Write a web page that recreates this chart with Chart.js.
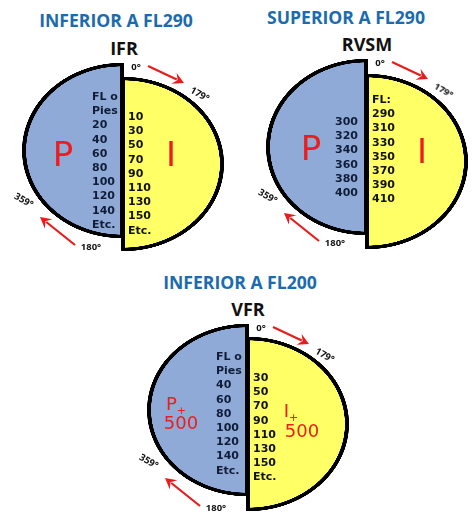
<!DOCTYPE html>
<html lang="es">
<head>
<meta charset="utf-8">
<title>Niveles de crucero</title>
<script src="https://cdn.jsdelivr.net/npm/chart.js@4/dist/chart.umd.min.js"></script>
<style>
  html, body { margin: 0; padding: 0; background: #fff; }
  #page { position: relative; width: 474px; height: 517px; overflow: hidden; }
  #page canvas { position: absolute; }
  #arrows { position: absolute; left: 0; top: 0; }
  .t { position: absolute; white-space: nowrap; transform: translate(-50%, -50%); }
  .title { font: bold 17.6px "Open Sans", sans-serif; color: #1b6cae; }
  .rule { font: bold 18px "Open Sans", sans-serif; color: #111; }
  .lvl { font: bold 11px "DejaVu Sans", sans-serif; transform: translateY(-50%); }
  .deg { font: bold 9.5px "Open Sans", sans-serif; color: #111; }
  .big { font: 34px "DejaVu Sans", sans-serif; color: #ee1c1c; }
  .mid { font: 18px "DejaVu Sans", sans-serif; color: #ee1c1c; }
  .mid sub { font-size: 11px; line-height: 0; }
</style>
</head>
<body>
<div id="page"></div>
<script>
// Rumbos de cada semicírculo (grados)
const oddHeadings = [180];   // 0° a 179°
const evenHeadings = [180];  // 180° a 359°

// Niveles por regla
const ifrEven = ['FL o', 'Pies', '20', '40', '60', '80', '100', '120', '140', 'Etc.'];
const ifrOdd = ['10', '30', '50', '70', '90', '110', '130', '150', 'Etc.'];
const rvsmEven = ['300', '320', '340', '360', '380', '400'];
const rvsmOdd = ['FL:', '290', '310', '330', '350', '370', '390', '410'];
const vfrEven = ['FL o', 'Pies', '40', '60', '80', '100', '120', '140', 'Etc.'];
const vfrOdd = ['30', '50', '70', '90', '110', '130', '150', 'Etc.'];

const BLUE = '#8faad6';
const YELLOW = '#ffff66';
const RED = '#e81c1c';
const LINE_STEP = 14.2;

const page = document.getElementById('page');

function addText(cls, html, x, y, rotate) {
    const el = document.createElement('div');
    el.className = 't ' + cls;
    el.innerHTML = html;
    el.style.left = x + 'px';
    el.style.top = y + 'px';
    if (rotate) el.style.transform = `translate(-50%, -50%) rotate(${rotate}deg)`;
    page.appendChild(el);
}

// Columna de niveles
function addLevels(levels, x, y, color) {
    levels.forEach((txt, i) => {
        const el = document.createElement('div');
        el.className = 't lvl';
        el.textContent = txt;
        el.style.left = x + 'px';
        el.style.top = (y + i * LINE_STEP) + 'px';
        el.style.color = color;
        page.appendChild(el);
    });
}

// Semicírculo: se dibuja a 2x y el CSS lo estira hasta la elipse
function addHalf(values, color, rotation, left, top, width, height) {
    const canvas = document.createElement('canvas');
    canvas.width = 200;
    canvas.height = 400;
    canvas.style.left = left + 'px';
    canvas.style.top = top + 'px';
    canvas.style.width = width + 'px';
    canvas.style.height = height + 'px';
    page.appendChild(canvas);
    new Chart(canvas.getContext('2d'), {
        type: 'pie',
        data: {
            labels: ['Rumbos'],
            datasets: [{
                data: values,
                backgroundColor: color,
                borderColor: '#000',
                borderWidth: 8,
                borderJoinStyle: 'miter'
            }]
        },
        options: {
            responsive: false,
            devicePixelRatio: 2,
            animation: false,
            rotation: rotation,
            circumference: 180,
            plugins: { legend: { display: false }, tooltip: { enabled: false } }
        }
    });
}

// Flechas rojas
const svgNS = 'http://www.w3.org/2000/svg';
const svg = document.createElementNS(svgNS, 'svg');

function addArrow(x1, y1, x2, y2) {
    const a = Math.atan2(y2 - y1, x2 - x1);
    const back = 11, side = 6;
    const bx = x2 - back * Math.cos(a), by = y2 - back * Math.sin(a);
    const nx = -Math.sin(a) * side, ny = Math.cos(a) * side;
    const line = document.createElementNS(svgNS, 'line');
    line.setAttribute('x1', x1);
    line.setAttribute('y1', y1);
    line.setAttribute('x2', bx + 3 * Math.cos(a));
    line.setAttribute('y2', by + 3 * Math.sin(a));
    line.setAttribute('stroke', RED);
    line.setAttribute('stroke-width', 2.2);
    svg.appendChild(line);
    const head = document.createElementNS(svgNS, 'polygon');
    const tip = `${x2},${y2}`;
    const mid = `${bx + 4 * Math.cos(a)},${by + 4 * Math.sin(a)}`;
    head.setAttribute('points', `${tip} ${bx + nx},${by + ny} ${mid} ${bx - nx},${by - ny}`);
    head.setAttribute('fill', RED);
    svg.appendChild(head);
}

function addPanel(ax, blueTop, yellowTop, blueH, yellowH) {
    addHalf(evenHeadings, BLUE, 180, ax - 101, blueTop, 102, blueH);
    addHalf(oddHeadings, YELLOW, 0, ax - 2, yellowTop, 103, yellowH);
    addArrow(ax + 25, blueTop + 5, ax + 61, blueTop + 22);
    addArrow(ax - 48, blueTop + 184, ax - 83, blueTop + 156);
    addText('deg', '0°', ax + 13, blueTop + 5);
    addText('deg', '179°', ax + 77, blueTop + 33, 30);
    addText('deg', '359°', ax - 99, blueTop + 139, 30);
    addText('deg', '180°', ax - 32, blueTop + 185);
}

svg.setAttribute('id', 'arrows');
svg.setAttribute('width', 474);
svg.setAttribute('height', 517);

// IFR
addText('title', 'INFERIOR A FL290', 116, 20);
addText('rule', 'IFR', 124, 48);
addPanel(123, 61, 75, 179, 178);
addLevels(ifrEven, 92, 96, '#101c38');
addLevels(ifrOdd, 128, 116, '#111');
addText('big', 'P', 63, 154);
addText('big', 'I', 171, 154);

// RVSM
addText('title', 'SUPERIOR A FL290', 346, 17);
addText('rule', 'RVSM', 367, 44);
addPanel(367, 57, 72, 180, 179);
addLevels(rvsmEven, 335, 121, '#101c38');
addLevels(rvsmOdd, 372, 99, '#111');
addText('big', 'P', 311, 148);
addText('big', 'I', 422, 151);

// VFR
addText('title', 'INFERIOR A FL200', 240, 282);
addText('rule', 'VFR', 248, 309);
addPanel(248, 322, 335, 176, 178);
addLevels(vfrEven, 216, 356, '#101c38');
addLevels(vfrOdd, 253, 377, '#111');
addText('mid', 'P<sub>+</sub>', 176, 403);
addText('mid', '500', 181, 422);
addText('mid', 'I<sub>+</sub>', 291, 410);
addText('mid', '500', 302, 430);

page.appendChild(svg);
</script>
</body>
</html>
